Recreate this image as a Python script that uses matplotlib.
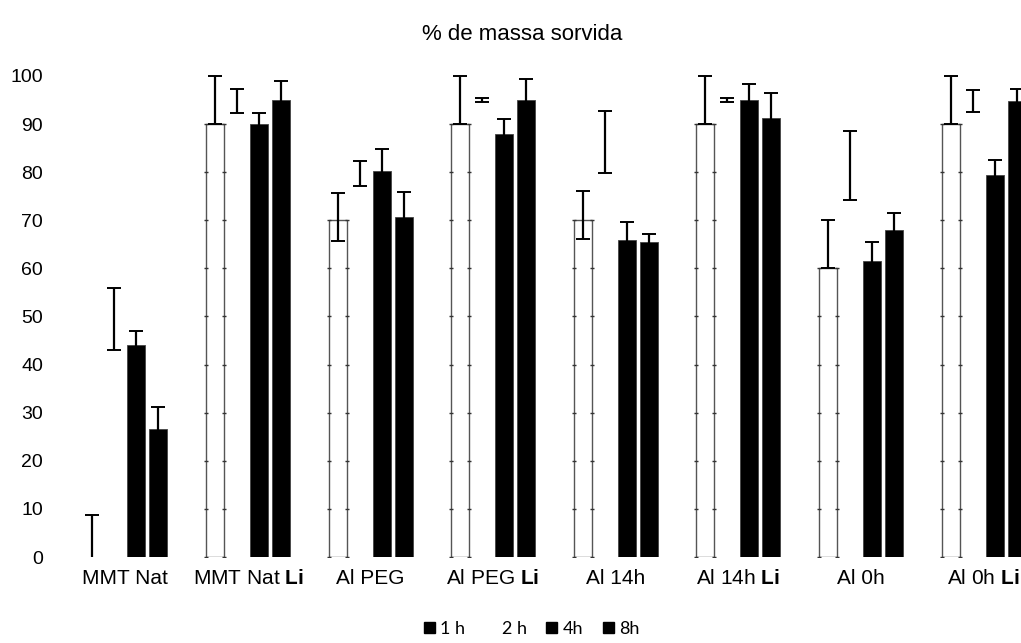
import matplotlib
matplotlib.use("Agg")
import matplotlib.pyplot as plt
from matplotlib.patches import Patch
import numpy as np

plt.rcParams['font.family'] = ['Liberation Sans', 'DejaVu Sans']
plt.rcParams['mathtext.fontset'] = 'custom'
plt.rcParams['mathtext.rm'] = 'Liberation Sans'
plt.rcParams['mathtext.bf'] = 'Liberation Sans:bold'

# ---------------- data ----------------
categories = ["MMT Nat", "MMT Nat $\\mathbf{Li}$", "Al PEG", "Al PEG $\\mathbf{Li}$",
              "Al 14h", "Al 14h $\\mathbf{Li}$", "Al 0h", "Al 0h $\\mathbf{Li}$"]
series_names = ["1 h", "2 h", "4h", "8h"]

bar_1h = [0, 90, 70, 90, 70, 90, 60, 90]
errmid_1h = [0, 95, 70.7, 95, 71.1, 95, 65, 95]
err_1h = [8.8, 5, 5, 5, 5, 5, 5, 5]

mean_2h = [49.5, 94.8, 79.8, 95.0, 86.3, 95.0, 81.35, 94.85]
err_2h = [6.5, 2.5, 2.6, 0.5, 6.5, 0.5, 7.15, 2.25]

vals_4h = [44.1, 90.0, 80.2, 88.0, 65.9, 95.0, 61.5, 79.5]
err_4h = [2.9, 2.3, 4.6, 3.1, 3.8, 3.3, 4.0, 3.0]

vals_8h = [26.6, 95.0, 70.6, 95.0, 65.4, 91.3, 68.0, 94.9]
err_8h = [4.5, 4.0, 5.2, 4.3, 1.7, 5.1, 3.5, 2.3]

yticks = list(range(0, 101, 10))

# ---------------- layout ----------------
W, H = 1021, 643
fig = plt.figure(figsize=(W / 100, H / 100), dpi=100)
ax_left = 64 / W
ax_width = 980.8 / W
ax_bottom = (H - 557) / H
ax_height = (557 - 73.1) / H
ax = fig.add_axes([ax_left, ax_bottom, ax_width, ax_height])

x = np.arange(len(categories))
d = 22 / 122.6
bw = 18 / 122.6
offs = [-1.5 * d, -0.5 * d, 0.5 * d, 1.5 * d]

ekw = dict(fmt='none', ecolor='black', elinewidth=1.6, capsize=4.7, capthick=1.4, zorder=4)

# 1h: white bars with thin edges
lw_1h = [1.0 if h > 0 else 0.0 for h in bar_1h]
ax.bar(x + offs[0], bar_1h, width=bw, color='white', edgecolor='#555555', linewidth=lw_1h, zorder=2)
for xi, h in zip(x + offs[0], bar_1h):
    if h > 0:
        ks = np.arange(0, h + 0.1, 10)
        ax.plot(np.full_like(ks, xi - bw / 2), ks, ls='none', marker='_', ms=3.5, mew=1.0, color='#333333', zorder=3)
        ax.plot(np.full_like(ks, xi + bw / 2), ks, ls='none', marker='_', ms=3.5, mew=1.0, color='#333333', zorder=3)
ax.errorbar(x + offs[0], errmid_1h, yerr=err_1h, **ekw)

# 2h: invisible bars, error bars only
ax.errorbar(x + offs[1], mean_2h, yerr=err_2h, **ekw)

# 4h and 8h: black bars
ax.bar(x + offs[2], vals_4h, width=bw, color='black', edgecolor='#444444', linewidth=0.6, zorder=2)
ax.errorbar(x + offs[2], vals_4h, yerr=err_4h, **ekw)
ax.bar(x + offs[3], vals_8h, width=bw, color='black', edgecolor='#444444', linewidth=0.6, zorder=2)
ax.errorbar(x + offs[3], vals_8h, yerr=err_8h, **ekw)

ax.set_xlim(-0.5, len(categories) - 0.5)
ax.set_ylim(0, 100.6)
ax.set_yticks(yticks)
ax.set_yticklabels([str(v) for v in yticks], fontsize=14)
ax.set_xticks(x)
ax.set_xticklabels(categories, fontsize=15)
ax.tick_params(axis='y', length=0, pad=15)
ax.tick_params(axis='x', length=0, pad=9)
for s in ax.spines.values():
    s.set_visible(False)

fig.text(0.511, 0.946, "% de massa sorvida", ha='center', va='center', fontsize=16)

handles = [Patch(facecolor='black', edgecolor='black'),
           Patch(facecolor='white', edgecolor='white'),
           Patch(facecolor='black', edgecolor='black'),
           Patch(facecolor='black', edgecolor='black')]
fig.legend(handles, series_names, loc='center', bbox_to_anchor=(0.521, 0.022), ncol=4,
           frameon=False, handlelength=0.6, handleheight=0.6, handletextpad=0.3,
           columnspacing=1.1, prop={'family': 'Lato', 'size': 13})

fig.savefig("out.png", dpi=100)
